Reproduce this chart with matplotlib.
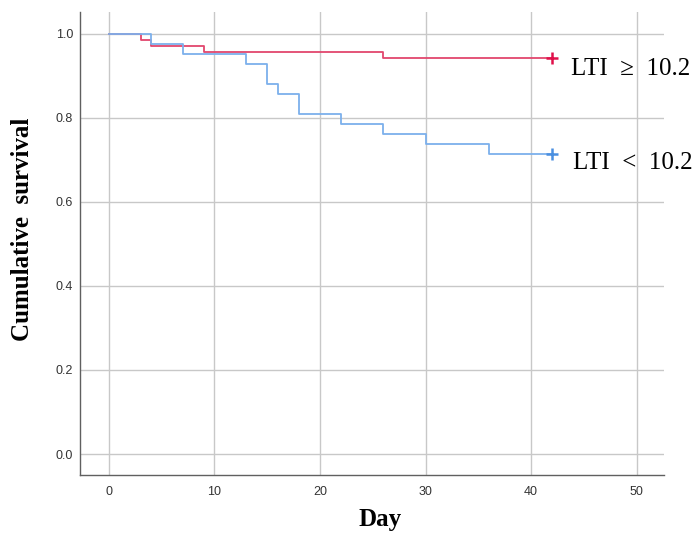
import matplotlib
matplotlib.use("Agg")
import matplotlib.pyplot as plt

# Kaplan-Meier estimates by LTI group (step changes at event days)
high_days = [0, 3, 4, 9, 26, 42]
high_surv = [1.0, 0.986, 0.971, 0.957, 0.943, 0.943]
low_days = [0, 4, 7, 13, 15, 16, 18, 22, 26, 30, 36, 42]
low_surv = [1.0, 0.976, 0.952, 0.929, 0.881, 0.857, 0.810, 0.786, 0.762, 0.738, 0.714, 0.714]

high_label = "LTI  \u2265  10.2"
low_label = "LTI  <  10.2"
x_ticks = [0, 10, 20, 30, 40, 50]
y_ticks = [0.0, 0.2, 0.4, 0.6, 0.8, 1.0]

red_line, red_mark = "#e2476d", "#e0104a"
blue_line, blue_mark = "#7cb0ec", "#4a8fe0"

fig = plt.figure(figsize=(6.99, 5.35), dpi=100)
ax = fig.add_axes([0.1144, 0.1121, 0.8355, 0.8654])

ax.step(high_days, high_surv, where="post", color=red_line, lw=1.3, zorder=3)
ax.step(low_days, low_surv, where="post", color=blue_line, lw=1.3, zorder=3)

# censored at end of follow-up
ax.plot(high_days[-1], high_surv[-1], marker="+", ms=8, mew=1.8, color=red_mark, zorder=4)
ax.plot(low_days[-1], low_surv[-1], marker="+", ms=8, mew=1.8, color=blue_mark, zorder=4)

ax.text(43.8, high_surv[-1] - 0.027, high_label, fontsize=18, family="Liberation Serif",
        va="center", ha="left", clip_on=False)
ax.text(44.0, low_surv[-1] - 0.022, low_label, fontsize=18, family="Liberation Serif",
        va="center", ha="left", clip_on=False)

ax.set_xlim(-2.75, 52.6)
ax.set_ylim(-0.05, 1.052)
ax.set_xticks(x_ticks)
ax.set_yticks(y_ticks)
ax.set_yticklabels([f"{v:.1f}" for v in y_ticks])
ax.grid(True, color="#c8c8c8", lw=1.0)
ax.set_axisbelow(True)

for s in ["top", "right"]:
    ax.spines[s].set_visible(False)
for s in ["left", "bottom"]:
    ax.spines[s].set_color("#606060")
    ax.spines[s].set_linewidth(1.0)

ax.tick_params(length=0, labelsize=9, labelcolor="#333333")
ax.tick_params(axis="x", pad=8)
ax.tick_params(axis="y", pad=5)
for lab in ax.get_xticklabels() + ax.get_yticklabels():
    lab.set_family("Liberation Sans")

ax.set_xlabel("Day", fontsize=18, fontweight="bold", family="Liberation Serif",
              va="center", ha="center")
ax.set_ylabel("Cumulative  survival", fontsize=18, fontweight="bold",
              family="Liberation Serif", va="center", ha="center")
ax.xaxis.set_label_coords(0.514, -0.097)
ax.yaxis.set_label_coords(-0.099, 0.531)

fig.savefig("out.png", dpi=100)
